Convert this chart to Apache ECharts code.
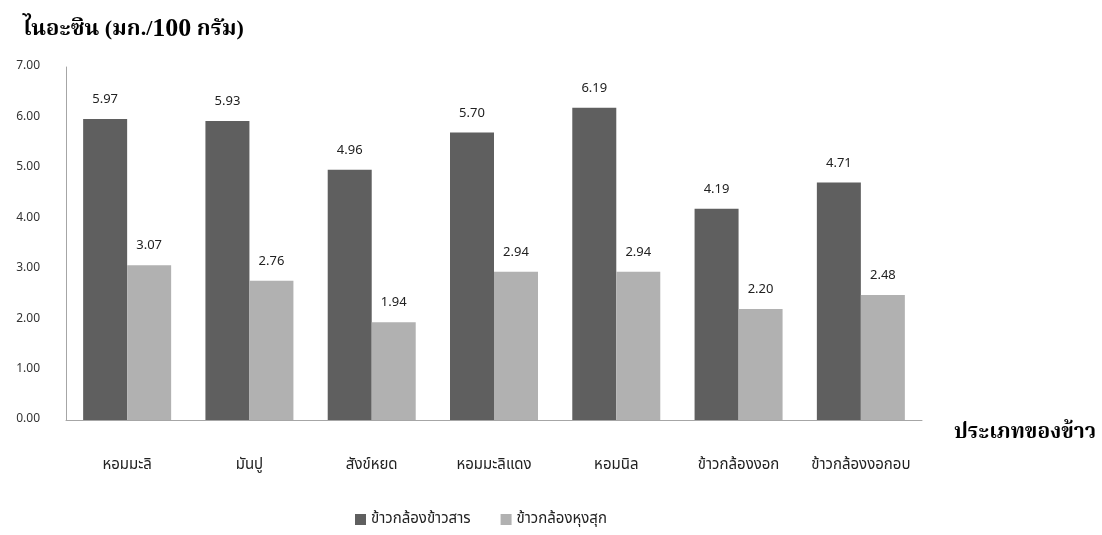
<!DOCTYPE html>
<html>
<head>
<meta charset="utf-8">
<script src="https://cdn.jsdelivr.net/npm/echarts@6/dist/echarts.min.js"></script>
<style>
  html, body { margin: 0; padding: 0; background: #ffffff; }
  #chart { width: 1102px; height: 535px; }
</style>
</head>
<body>
<div id="chart"></div>
<script>
// Rice varieties and niacin content (mg / 100 g)
const categories = ['หอมมะลิ', 'มันปู', 'สังข์หยด', 'หอมมะลิแดง', 'หอมนิล', 'ข้าวกล้องงอก', 'ข้าวกล้องงอกอบ'];
const rawBrown = [5.97, 5.93, 4.96, 5.70, 6.19, 4.19, 4.71];
const cookedBrown = [3.07, 2.76, 1.94, 2.94, 2.94, 2.20, 2.48];
const seriesNames = ['ข้าวกล้องข้าวสาร', 'ข้าวกล้องหุงสุก'];
const yTicks = [0, 1, 2, 3, 4, 5, 6, 7];

const thaiFont = '"Noto Sans Thai", "Noto Sans", "DejaVu Sans", sans-serif';
const serifFont = '"Liberation Serif", "Noto Serif Thai", "DejaVu Serif", serif';

const chart = echarts.init(document.getElementById('chart'), null, { renderer: 'canvas' });

const labelStyle = {
  show: true,
  position: 'top',
  distance: 12,
  color: '#222',
  fontSize: 13,
  fontFamily: thaiFont,
  formatter: p => p.value.toFixed(2)
};

chart.setOption({
  backgroundColor: '#ffffff',
  animation: false,
  title: {
    text: '{a|ไนอะซิน (มก./}{b|100}{a| กรัม)}',
    left: 18,
    top: 11,
    textStyle: {
      rich: {
        a: { fontFamily: serifFont, fontWeight: 'bold', fontSize: 22, color: '#000' },
        b: { fontFamily: serifFont, fontWeight: 'bold', fontSize: 26, color: '#000' }
      }
    }
  },
  legend: {
    data: seriesNames,
    bottom: 3,
    left: 350,
    itemWidth: 11,
    itemHeight: 11,
    itemGap: 30,
    icon: 'rect',
    textStyle: { fontFamily: thaiFont, fontSize: 15, color: '#222' }
  },
  grid: { left: 66, right: 180, top: 67, bottom: 115, containLabel: false },
  xAxis: {
    type: 'category',
    data: categories,
    name: 'ประเภทของข้าว',
    nameLocation: 'end',
    nameGap: 32,
    nameTextStyle: { fontFamily: serifFont, fontWeight: 'bold', fontSize: 21, color: '#000', verticalAlign: 'top', padding: [2, 0, 0, 0] },
    axisLine: { lineStyle: { color: '#a6a6a6', width: 1 } },
    axisTick: { show: false },
    axisLabel: { interval: 0, margin: 38, fontFamily: thaiFont, fontSize: 15, color: '#222' }
  },
  yAxis: {
    type: 'value',
    min: yTicks[0],
    max: yTicks[yTicks.length - 1],
    interval: 1,
    axisLine: { show: true, lineStyle: { color: '#a6a6a6', width: 1 } },
    axisTick: { show: false },
    splitLine: { show: false },
    axisLabel: { margin: 26, fontFamily: thaiFont, fontSize: 12, color: '#333', formatter: v => v.toFixed(2) }
  },
  series: [
    {
      name: seriesNames[0],
      type: 'bar',
      data: rawBrown,
      barWidth: 44,
      barGap: '0%',
      itemStyle: { color: '#5f5f5f' },
      label: labelStyle
    },
    {
      name: seriesNames[1],
      type: 'bar',
      data: cookedBrown,
      barWidth: 44,
      barGap: '0%',
      itemStyle: { color: '#b1b1b1' },
      label: labelStyle
    }
  ]
});
</script>
</body>
</html>
